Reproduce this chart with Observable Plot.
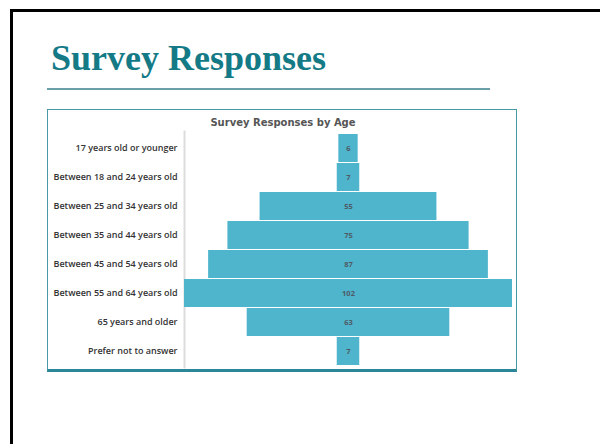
<!DOCTYPE html>
<html><head><meta charset="utf-8">
<script src="https://cdn.jsdelivr.net/npm/d3@7"></script>
<script src="https://cdn.jsdelivr.net/npm/@observablehq/plot@0.6"></script>
<style>
html,body{margin:0;padding:0;background:#fff;}
#page{position:relative;width:600px;height:444px;overflow:hidden;}
#border{position:absolute;left:10px;top:9px;width:700px;height:600px;border-left:3px solid #000;border-top:3px solid #000;}
#title{position:absolute;left:51px;top:38px;font-family:"Liberation Serif",serif;font-weight:bold;font-size:36px;line-height:40px;color:#137a86;white-space:nowrap;}
#rule{position:absolute;left:47px;top:88px;width:443px;height:2px;background:#6a9ea8;}
#box{position:absolute;left:47px;top:109px;width:468px;height:259px;border:1px solid #4a98a6;border-bottom:3px solid #2b8797;box-sizing:content-box;}
#ctitle{position:absolute;left:0;width:470px;top:7px;text-align:center;font-family:"DejaVu Sans",sans-serif;font-weight:bold;font-size:10px;color:#555;}
#chart{position:absolute;left:0;top:0;line-height:0;}
#chart svg{display:block;overflow:visible;}
</style></head>
<body><div id="page">
<div id="border"></div>
<div id="title">Survey Responses</div>
<div id="rule"></div>
<div id="box"><div id="chart"></div><div id="ctitle">Survey Responses by Age</div></div>
</div>
<script>
const categories = ["17 years old or younger","Between 18 and 24 years old","Between 25 and 34 years old","Between 35 and 44 years old","Between 45 and 54 years old","Between 55 and 64 years old","65 years and older","Prefer not to answer"];
const responses = [6, 7, 55, 75, 87, 102, 63, 7];

const data = categories.map((c, i) => ({category: c, value: responses[i]}));
const maxV = d3.max(responses);

const chart = Plot.plot({
  width: 468,
  height: 259,
  marginLeft: 136,
  marginRight: 4,
  marginTop: 21,
  marginBottom: 2,
  style: {fontFamily: "'Open Sans', sans-serif", background: "transparent"},
  x: {domain: [-maxV / 2, maxV / 2], axis: null},
  y: {domain: categories, padding: 0.04, label: null},
  marks: [
    Plot.frame({anchor: "left", stroke: "#dcdcdc", strokeWidth: 2}),
    Plot.barX(data, {y: "category", x1: d => -d.value / 2, x2: d => d.value / 2, fill: "#4eb5cd"}),
    Plot.text(data, {y: "category", x: 0, text: d => String(d.value), fill: "#505a66", fontSize: 7.5, fontWeight: "bold"}),
    Plot.axisY({tickSize: 0, tickPadding: 7, fontSize: 9, fill: "#333", fontWeight: 600})
  ]
});
document.getElementById("chart").appendChild(chart);
</script>
</body></html>
